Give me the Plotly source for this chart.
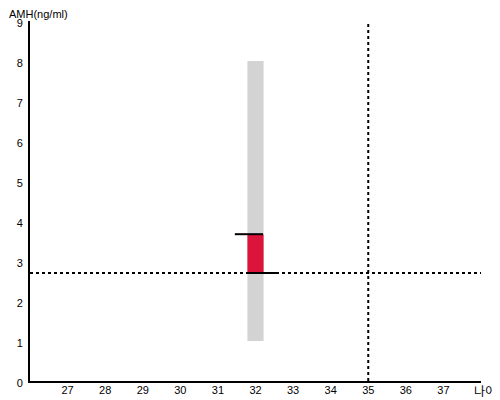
import plotly.graph_objects as go

x_ticks = [27, 28, 29, 30, 31, 32, 33, 34, 35, 36, 37]
y_ticks = [0, 1, 2, 3, 4, 5, 6, 7, 8, 9]

age = 32
range_low = 1.0
range_high = 8.0
amh_ref = 2.7
amh_value = 3.67
age_ref = 35

fig = go.Figure()
fig.add_trace(go.Bar(x=[age], y=[range_high - range_low], base=[range_low], width=0.43,
                     marker=dict(color="#d3d3d3", line=dict(width=0)), hoverinfo="skip"))
fig.add_trace(go.Bar(x=[age], y=[amh_value - amh_ref], base=[amh_ref], width=0.43,
                     marker=dict(color="#dc143c", line=dict(width=0)), hoverinfo="skip"))
# reference lines
fig.add_trace(go.Scatter(x=[26, 38], y=[amh_ref, amh_ref], mode="lines",
                         line=dict(color="black", width=2, dash="dot")))
fig.add_trace(go.Scatter(x=[age_ref, age_ref], y=[0, 9], mode="lines",
                         line=dict(color="black", width=2, dash="dot")))
# caps
fig.add_trace(go.Scatter(x=[age - 0.55, age + 0.2], y=[amh_value, amh_value], mode="lines",
                         line=dict(color="black", width=2)))
fig.add_trace(go.Scatter(x=[age - 0.22, age + 0.55], y=[amh_ref, amh_ref], mode="lines",
                         line=dict(color="black", width=2)))

fig.update_layout(
    width=492, height=392,
    margin=dict(l=22, r=19, t=13, b=19),
    paper_bgcolor="white", plot_bgcolor="white",
    showlegend=False,
    barmode="overlay",
    font=dict(family="Liberation Sans, Arial", size=11, color="black"),
    xaxis=dict(range=[26, 38], tickvals=x_ticks, showgrid=False, zeroline=False,
               showline=True, linecolor="black", linewidth=2, ticks="", ticklen=0,
               automargin=False, ticklabelstandoff=-2),
    yaxis=dict(range=[0, 9], tickvals=y_ticks, showgrid=False, zeroline=False,
               showline=True, linecolor="black", linewidth=2, ticks="", ticklen=0,
               automargin=False, ticklabelstandoff=3, ticklabelshift=2),
    annotations=[
        dict(text="AMH(ng/ml)", xref="paper", yref="paper", x=0, y=1.0, xshift=-22, yshift=14,
             xanchor="left", yanchor="top", borderpad=0, showarrow=False,
             font=dict(size=11)),
        dict(text="나이", xref="paper", yref="paper", x=1, y=0, xshift=-9, yshift=-9,
             xanchor="left", yanchor="middle", showarrow=False,
             font=dict(size=12, family="Noto Sans CJK KR")),
    ],
)
fig.write_html("out.html")
